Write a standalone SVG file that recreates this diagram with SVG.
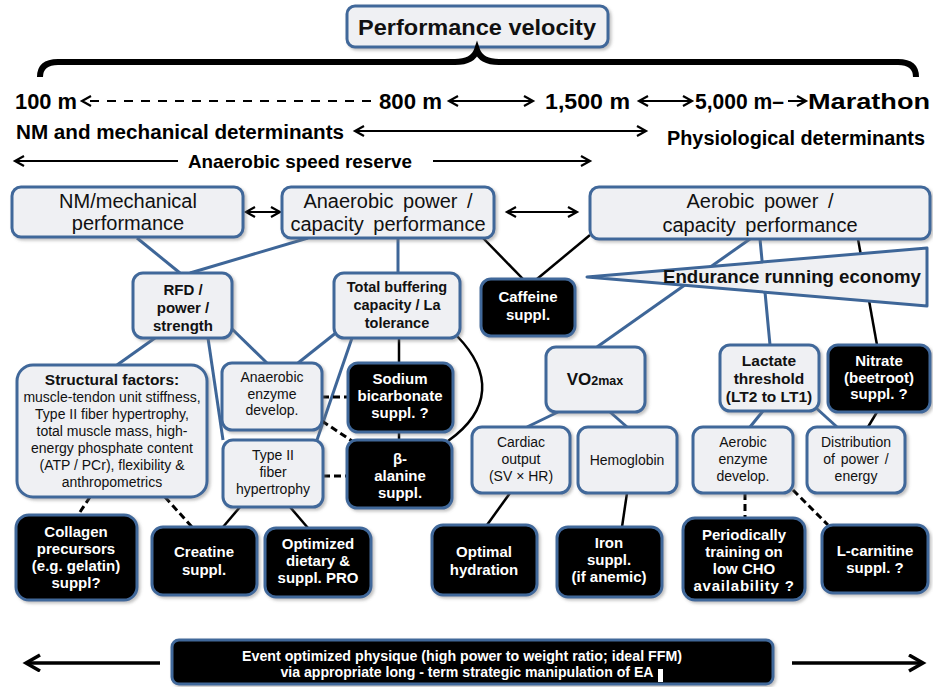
<svg xmlns="http://www.w3.org/2000/svg" width="933" height="687" viewBox="0 0 933 687">
<defs>
<marker id="ah" markerUnits="userSpaceOnUse" markerWidth="14" markerHeight="14" refX="10" refY="6" orient="auto-start-reverse"><path d="M1,1 L10,6 L1,11" fill="none" stroke="#000" stroke-width="2.2"/></marker>
<marker id="ahb" markerUnits="userSpaceOnUse" markerWidth="20" markerHeight="20" refX="15" refY="9" orient="auto-start-reverse"><path d="M1,1 L15,9 L1,17" fill="none" stroke="#000" stroke-width="3.5"/></marker>
<filter id="sh" x="-10%" y="-10%" width="130%" height="130%"><feDropShadow dx="2" dy="2" stdDeviation="1.5" flood-color="#777" flood-opacity="0.45"/></filter>
</defs>
<style>
.lb{fill:#eff0f3;stroke:#41689a;stroke-width:3;filter:url(#sh)}
.bb{fill:#000;stroke:#41689a;stroke-width:3;filter:url(#sh)}
.t{font-family:"Liberation Sans",Arial,sans-serif;fill:#111;text-anchor:middle}
.tw{font-family:"Liberation Sans",Arial,sans-serif;fill:#fff;font-weight:bold;text-anchor:middle;font-size:15px}
.n{font-family:"Liberation Sans Narrow","Liberation Sans",Arial,sans-serif;font-weight:bold;fill:#000}
.blue{stroke:#3e6698;stroke-width:3;fill:none}
.blk{stroke:#000;stroke-width:2.5;fill:none}
.dash{stroke:#000;stroke-width:3;fill:none;stroke-dasharray:7 4}
.arr{stroke:#000;stroke-width:2;fill:none}
</style>
<rect width="933" height="687" fill="#fff"/>

<g id="header">
<rect class="lb" x="347" y="6" width="261" height="41" rx="8"/>
<text class="t" x="477" y="35" font-size="22" font-weight="bold" textLength="238" lengthAdjust="spacingAndGlyphs">Performance velocity</text>
<path d="M40,77 Q40,62 58,62 L455,62 Q473,62 477,50 Q481,62 499,62 L898,62 Q916,62 916,77" fill="none" stroke="#000" stroke-width="6"/>
<text class="n" x="15" y="109" font-size="22" textLength="62" lengthAdjust="spacingAndGlyphs">100 m</text>
<text class="n" x="379" y="109" font-size="22" textLength="63" lengthAdjust="spacingAndGlyphs">800 m</text>
<text class="n" x="545" y="109" font-size="22" textLength="85" lengthAdjust="spacingAndGlyphs">1,500 m</text>
<text class="n" x="695" y="109" font-size="22" textLength="89" lengthAdjust="spacingAndGlyphs">5,000 m–</text>
<text class="n" x="808" y="109" font-size="22" textLength="122" lengthAdjust="spacingAndGlyphs">Marathon</text>
<text class="n" x="16" y="139" font-size="20" textLength="328" lengthAdjust="spacingAndGlyphs">NM and mechanical determinants</text>
<text class="n" x="667" y="145" font-size="20" textLength="258" lengthAdjust="spacingAndGlyphs">Physiological  determinants</text>
<text class="n" x="188" y="168" font-size="19" textLength="224" lengthAdjust="spacingAndGlyphs">Anaerobic speed reserve</text>
</g>

<g id="connectors">
<line class="arr" x1="371" y1="101" x2="82" y2="101" stroke-dasharray="9 8" marker-end="url(#ah)"/>
<line class="arr" x1="449" y1="101" x2="533" y2="101" marker-start="url(#ah)" marker-end="url(#ah)"/>
<line class="arr" x1="639" y1="101" x2="692" y2="101" marker-start="url(#ah)" marker-end="url(#ah)"/>
<line class="arr" x1="788" y1="101" x2="806" y2="101" marker-end="url(#ah)"/>
<line class="arr" x1="355" y1="131" x2="646" y2="131" marker-start="url(#ah)" marker-end="url(#ah)"/>
<line class="arr" x1="15" y1="161" x2="178" y2="161" marker-start="url(#ah)"/>
<line class="arr" x1="433" y1="161" x2="590" y2="161" marker-end="url(#ah)"/>
<line class="arr" x1="246" y1="212" x2="280" y2="212" stroke-width="2.5" marker-start="url(#ah)" marker-end="url(#ah)"/>
<line class="arr" x1="507" y1="212" x2="577" y2="212" stroke-width="2.5" marker-start="url(#ah)" marker-end="url(#ah)"/>

<line class="blue" x1="137" y1="238" x2="180" y2="273"/>
<line class="blue" x1="308" y1="238" x2="190" y2="273"/>
<line class="blue" x1="398" y1="238" x2="398" y2="273"/>
<line class="blue" x1="750" y1="239" x2="597" y2="347"/>
<line class="blue" x1="760" y1="239" x2="770" y2="345"/>
<line class="blue" x1="155" y1="338" x2="117" y2="365"/>
<line class="blue" x1="208" y1="338" x2="223" y2="440"/>
<line class="blue" x1="230" y1="327" x2="267" y2="363"/>
<line class="blue" x1="337" y1="332" x2="298" y2="363"/>
<line class="blue" x1="352" y1="338" x2="317" y2="440"/>
<line class="blue" x1="558" y1="412" x2="527" y2="427"/>
<line class="blue" x1="610" y1="412" x2="627" y2="427"/>
<line class="blue" x1="763" y1="411" x2="750" y2="427"/>
<line class="blue" x1="815" y1="407" x2="837" y2="427"/>

<line class="blk" x1="483" y1="238" x2="523" y2="279"/>
<line class="blk" x1="590" y1="235" x2="537" y2="279"/>
<line class="blk" x1="858" y1="239" x2="877" y2="345"/>
<line class="blk" x1="399" y1="338" x2="399" y2="363"/>
<line class="blk" x1="399" y1="432" x2="399" y2="440"/>
<path class="blk" d="M457,336 C492,372 492,410 448,441"/>
<line class="blk" x1="877" y1="412" x2="868" y2="427"/>
<line class="blk" x1="240" y1="507" x2="223" y2="527"/>
<line class="blk" x1="290" y1="507" x2="308" y2="528"/>
<line class="blk" x1="510" y1="493" x2="487" y2="525"/>
<line class="blk" x1="627" y1="493" x2="622" y2="527"/>

<line class="dash" x1="322" y1="397" x2="348" y2="397"/>
<line class="dash" x1="322" y1="421" x2="352" y2="441"/>
<line class="dash" x1="323" y1="476" x2="347" y2="476"/>
<line class="dash" x1="90" y1="497" x2="78" y2="515"/>
<line class="dash" x1="165" y1="497" x2="192" y2="527"/>
<line class="dash" x1="745" y1="493" x2="745" y2="518"/>
<line class="dash" x1="793" y1="490" x2="828" y2="525"/>

<line x1="160" y1="663" x2="26" y2="663" stroke="#000" stroke-width="3.5" marker-end="url(#ahb)"/>
<line x1="792" y1="663" x2="923" y2="663" stroke="#000" stroke-width="3.5" marker-end="url(#ahb)"/>
</g>

<g id="nm"><rect class="lb" x="12" y="187" width="231" height="50" rx="9"/>
<text class="t" x="128" y="208" font-size="20">NM/mechanical</text><text class="t" x="128" y="230" font-size="20">performance</text></g>

<g id="anp"><rect class="lb" x="282" y="187" width="212" height="51" rx="9"/>
<text class="t" x="388" y="208" font-size="20" word-spacing="4">Anaerobic power /</text><text class="t" x="388" y="231" font-size="20" word-spacing="4">capacity performance</text></g>

<g id="aer"><rect class="lb" x="590" y="187" width="340" height="52" rx="9"/>
<text class="t" x="760" y="208" font-size="20" word-spacing="4">Aerobic power /</text><text class="t" x="760" y="232" font-size="20" word-spacing="4">capacity performance</text></g>

<g id="economy"><polygon points="587,277 927,248 927,306" fill="#eff0f3" stroke="#3e6698" stroke-width="3" stroke-linejoin="round"/>
<text class="t" x="792" y="283" font-size="19" font-weight="bold" textLength="258" lengthAdjust="spacingAndGlyphs">Endurance running economy</text></g>

<g id="rfd"><rect class="lb" x="133" y="273" width="99" height="65" rx="10"/>
<text class="t" x="183" y="295" font-size="15" font-weight="bold">RFD /</text><text class="t" x="183" y="313" font-size="15" font-weight="bold">power /</text><text class="t" x="183" y="331" font-size="15" font-weight="bold">strength</text></g>

<g id="tbc"><rect class="lb" x="334" y="273" width="126" height="65" rx="10"/>
<text class="t" x="397" y="292" font-size="14.5" font-weight="bold">Total buffering</text><text class="t" x="397" y="310" font-size="14.5" font-weight="bold">capacity / La</text><text class="t" x="397" y="328" font-size="14.5" font-weight="bold">tolerance</text></g>

<g id="caffeine"><rect class="bb" x="481" y="279" width="94" height="57" rx="10"/>
<text class="tw" x="528" y="302">Caffeine</text><text class="tw" x="528" y="320">suppl.</text></g>

<g id="structural"><rect class="lb" x="17" y="365" width="190" height="132" rx="16"/>
<text class="t" x="112" y="385" font-size="15.5" font-weight="bold">Structural factors:</text>
<text class="t" x="112" y="402" font-size="14">muscle-tendon unit stiffness,</text>
<text class="t" x="112" y="419" font-size="14">Type II fiber hypertrophy,</text>
<text class="t" x="112" y="436" font-size="14">total muscle mass, high-</text>
<text class="t" x="112" y="453" font-size="14">energy phosphate content</text>
<text class="t" x="112" y="470" font-size="14">(ATP / PCr), flexibility &amp;</text>
<text class="t" x="112" y="487" font-size="14">anthropometrics</text></g>

<g id="aenz"><rect class="lb" x="222" y="363" width="100" height="67" rx="10"/>
<text class="t" x="272" y="382" font-size="14">Anaerobic</text><text class="t" x="272" y="399" font-size="14">enzyme</text><text class="t" x="272" y="415" font-size="14">develop.</text></g>

<g id="type2"><rect class="lb" x="223" y="440" width="100" height="67" rx="10"/>
<text class="t" x="273" y="460" font-size="14">Type II</text><text class="t" x="273" y="477" font-size="14">fiber</text><text class="t" x="273" y="494" font-size="14">hypertrophy</text></g>

<g id="sodium"><rect class="bb" x="348" y="363" width="105" height="69" rx="10"/>
<text class="tw" x="400" y="384">Sodium</text><text class="tw" x="400" y="401">bicarbonate</text><text class="tw" x="400" y="418">suppl. ?</text></g>

<g id="balanine"><rect class="bb" x="347" y="440" width="105" height="68" rx="10"/>
<text class="tw" x="400" y="464" font-size="22" font-weight="normal">β-</text><text class="tw" x="400" y="481">alanine</text><text class="tw" x="400" y="498">suppl.</text></g>

<g id="vo2"><rect class="lb" x="546" y="347" width="99" height="65" rx="10"/>
<text class="t" x="595" y="385" font-size="17" font-weight="bold">VO<tspan font-size="12.5">2max</tspan></text></g>

<g id="lactate"><rect class="lb" x="720" y="345" width="99" height="66" rx="10"/>
<text class="t" x="769" y="366" font-size="15.5" font-weight="bold">Lactate</text><text class="t" x="769" y="384" font-size="15.5" font-weight="bold">threshold</text><text class="t" x="769" y="402" font-size="15.5" font-weight="bold">(LT2 to LT1)</text></g>

<g id="nitrate"><rect class="bb" x="828" y="345" width="102" height="67" rx="10"/>
<text class="tw" x="879" y="366">Nitrate</text><text class="tw" x="879" y="383">(beetroot)</text><text class="tw" x="879" y="399">suppl. ?</text></g>

<g id="cardiac"><rect class="lb" x="472" y="427" width="98" height="66" rx="10"/>
<text class="t" x="521" y="447" font-size="14">Cardiac</text><text class="t" x="521" y="464" font-size="14">output</text><text class="t" x="521" y="481" font-size="14">(SV × HR)</text></g>

<g id="hemoglobin"><rect class="lb" x="578" y="427" width="99" height="66" rx="10"/>
<text class="t" x="627" y="465" font-size="14">Hemoglobin</text></g>

<g id="aeroenz"><rect class="lb" x="693" y="427" width="100" height="66" rx="10"/>
<text class="t" x="743" y="447" font-size="14">Aerobic</text><text class="t" x="743" y="464" font-size="14">enzyme</text><text class="t" x="743" y="481" font-size="14">develop.</text></g>

<g id="distribution"><rect class="lb" x="807" y="427" width="98" height="66" rx="10"/>
<text class="t" x="856" y="447" font-size="14">Distribution</text><text class="t" x="856" y="464" font-size="14" word-spacing="2">of power /</text><text class="t" x="856" y="481" font-size="14">energy</text></g>

<g id="collagen"><rect class="bb" x="16" y="515" width="121" height="85" rx="13"/>
<text class="tw" x="76" y="537">Collagen</text><text class="tw" x="76" y="554">precursors</text><text class="tw" x="76" y="571">(e.g. gelatin)</text><text class="tw" x="76" y="588">suppl?</text></g>

<g id="creatine"><rect class="bb" x="152" y="527" width="105" height="68" rx="11"/>
<text class="tw" x="204" y="557">Creatine</text><text class="tw" x="204" y="575">suppl.</text></g>

<g id="protein"><rect class="bb" x="265" y="528" width="106" height="69" rx="11"/>
<text class="tw" x="318" y="549">Optimized</text><text class="tw" x="318" y="566">dietary &amp;</text><text class="tw" x="318" y="583">suppl. PRO</text></g>

<g id="hydration"><rect class="bb" x="432" y="525" width="105" height="70" rx="11"/>
<text class="tw" x="484" y="557">Optimal</text><text class="tw" x="484" y="575">hydration</text></g>

<g id="iron"><rect class="bb" x="557" y="527" width="105" height="70" rx="11"/>
<text class="tw" x="609" y="548">Iron</text><text class="tw" x="609" y="565">suppl.</text><text class="tw" x="609" y="582">(if anemic)</text></g>

<g id="lowcho"><rect class="bb" x="683" y="518" width="122" height="82" rx="12"/>
<text class="tw" x="744" y="540">Periodically</text><text class="tw" x="744" y="557">training on</text><text class="tw" x="744" y="574">low CHO</text><text class="tw" x="744" y="591" letter-spacing="0.8">availability ?</text></g>

<g id="carnitine"><rect class="bb" x="822" y="525" width="106" height="68" rx="11"/>
<text class="tw" x="875" y="556">L-carnitine</text><text class="tw" x="875" y="573">suppl. ?</text></g>

<g id="physique"><rect class="bb" x="172" y="640" width="601" height="44" rx="7"/>
<text class="tw" x="462" y="661" font-size="14" textLength="440" lengthAdjust="spacingAndGlyphs">Event optimized physique (high power to weight ratio; ideal FFM)</text>
<text class="tw" x="467" y="677" font-size="14" textLength="373" lengthAdjust="spacingAndGlyphs">via appropriate long - term strategic manipulation of EA</text>
<rect x="658" y="669" width="5" height="13" fill="#fff"/></g>
</svg>
